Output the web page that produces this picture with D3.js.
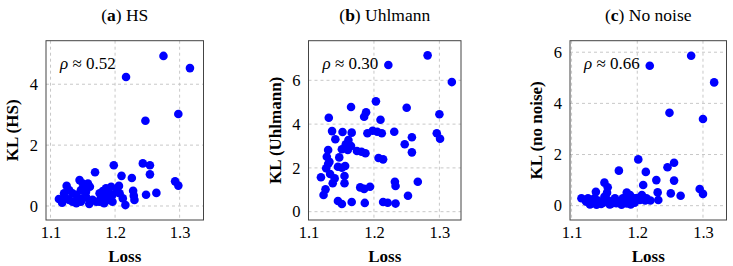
<!DOCTYPE html>
<html>
<head>
<meta charset="utf-8">
<script src="https://cdn.jsdelivr.net/npm/d3@7"></script>
<style>
  body { margin: 0; background: #fff; }
  svg text { font-family: "Liberation Serif", "DejaVu Serif", serif; fill: #000; }
</style>
</head>
<body>
<div id="chart"></div>
<script>
const width = 733,
    height = 266

// (a) HS
const lossHS = [1.217, 1.275, 1.316, 1.247, 1.298,
    1.198, 1.243, 1.254, 1.169, 1.21, 1.226, 1.254, 1.293, 1.298, 1.248, 1.264, 1.228, 1.229, 1.23, 1.216, 1.212, 1.206, 1.203, 1.207,
    1.194, 1.186, 1.181, 1.176, 1.183, 1.190, 1.196, 1.189, 1.176, 1.183, 1.196,
    1.145, 1.15, 1.158, 1.161, 1.155, 1.147, 1.155,
    1.125, 1.129, 1.121, 1.134, 1.140,
    1.113, 1.118, 1.124, 1.129, 1.134, 1.142, 1.147, 1.140, 1.15, 1.155, 1.160, 1.165, 1.171, 1.178]
const klHS = [4.24, 4.93, 4.53, 2.80, 3.02,
    1.34, 1.40, 1.34, 1.11, 0.99, 0.92, 1.04, 0.81, 0.67, 0.37, 0.43, 0.50, 0.34, 0.20, 0.03, 0.25, 0.66, 0.47, 0.42,
    0.63, 0.58, 0.49, 0.42, 0.36, 0.47, 0.36, 0.20, 0.14, 0.09, 0.14,
    0.85, 0.74, 0.74, 0.63, 0.58, 0.52, 0.47,
    0.66, 0.52, 0.42, 0.42, 0.36,
    0.23, 0.11, 0.25, 0.20, 0.14, 0.20, 0.14, 0.09, 0.25, 0.30, 0.07, 0.20, 0.14, 0.25]

// (b) Uhlmann
const lossU = [1.222, 1.282, 1.319, 1.203, 1.165, 1.250, 1.188, 1.185, 1.131, 1.300, 1.21,
    1.136, 1.152, 1.166, 1.190, 1.198, 1.205, 1.212, 1.231, 1.141, 1.258, 1.247, 1.258, 1.296, 1.301,
    1.161, 1.157, 1.165, 1.160, 1.151, 1.147, 1.174, 1.181, 1.187,
    1.130, 1.128, 1.132, 1.127, 1.130, 1.133, 1.145, 1.156, 1.151, 1.155, 1.155, 1.140, 1.137, 1.119, 1.126, 1.123,
    1.179, 1.194, 1.185, 1.207, 1.214, 1.232, 1.233, 1.267, 1.252, 1.145, 1.151, 1.166, 1.186, 1.214, 1.221, 1.233]
const klU = [6.70, 7.14, 5.92, 5.04, 4.78, 4.75, 4.54, 4.34, 4.29, 4.45, 4.20,
    3.68, 3.64, 3.61, 3.58, 3.70, 3.65, 3.58, 3.65, 3.31, 3.40, 3.08, 2.71, 3.58, 3.33,
    3.27, 3.08, 3.00, 2.82, 2.85, 2.48, 2.77, 2.74, 2.67,
    2.82, 2.51, 2.28, 1.98, 2.18, 1.72, 2.05, 2.09, 2.01, 1.63, 1.30, 1.52, 1.30, 1.57, 1.02, 0.76,
    1.11, 1.14, 1.04, 2.45, 2.39, 1.37, 1.17, 1.37, 0.73, 0.49, 0.35, 0.44, 0.40, 0.44, 0.41, 0.37]

// (c) No noise
const lossNN = [1.219, 1.282, 1.317, 1.249, 1.300,
    1.2015, 1.246, 1.256, 1.172, 1.213, 1.229, 1.256, 1.209, 1.295, 1.300, 1.251, 1.266, 1.231, 1.232,
    1.150, 1.155, 1.154, 1.137, 1.184, 1.189, 1.207, 1.214, 1.22,
    1.115, 1.122, 1.130, 1.140, 1.145, 1.155, 1.160, 1.171, 1.178, 1.184, 1.191, 1.196, 1.204, 1.212,
    1.125, 1.135, 1.150, 1.166, 1.186, 1.196,
    1.128, 1.138, 1.148, 1.158, 1.168, 1.176, 1.190, 1.200]
const klNN = [5.47, 5.86, 4.82, 3.63, 3.39,
    1.81, 1.50, 1.68, 1.37, 1.32, 1.00, 0.98, 0.81, 0.65, 0.46, 0.48, 0.39, 0.52, 0.22,
    0.90, 0.72, 0.51, 0.54, 0.51, 0.42, 0.42, 0.29, 0.20,
    0.29, 0.16, 0.09, 0.20, 0.07, 0.22, 0.07, 0.16, 0.29, 0.09, 0.22, 0.12, 0.22, 0.20,
    0.29, 0.29, 0.35, 0.29, 0.35, 0.29,
    0.05, 0.04, 0.12, 0.05, 0.10, 0.04, 0.05, 0.30]

const xTicks = [1.1, 1.2, 1.3]
const panels = [
    {tag: 'a', name: 'HS', ylabel: 'KL (HS)', rho: '0.52', loss: lossHS, kl: klHS,
        left: 46, right: 203.5, xDomain: [1.093, 1.337], yDomain: [-0.46, 5.43], yTicks: [0, 2, 4]},
    {tag: 'b', name: 'Uhlmann', ylabel: 'KL (Uhlmann)', rho: '0.30', loss: lossU, kl: klU,
        left: 308.5, right: 461, xDomain: [1.1, 1.333], yDomain: [-0.38, 7.81], yTicks: [0, 2, 4, 6]},
    {tag: 'c', name: 'No noise', ylabel: 'KL (no noise)', rho: '0.66', loss: lossNN, kl: klNN,
        left: 570, right: 726.5, xDomain: [1.0976, 1.3358], yDomain: [-0.56, 6.45], yTicks: [0, 2, 4, 6]}
]
const plotTop = 40.7,
    plotBottom = 220

const svg = d3.select('#chart')
    .append('svg')
    .attr('width', width)
    .attr('height', height)

panels.forEach(function (p) {
    const x = d3.scaleLinear().domain(p.xDomain).range([p.left, p.right])
    const y = d3.scaleLinear().domain(p.yDomain).range([plotBottom, plotTop])
    const g = svg.append('g')

    // grid
    g.append('g')
        .selectAll('line')
        .data(xTicks)
        .enter().append('line')
        .attr('x1', d => x(d)).attr('x2', d => x(d))
        .attr('y1', plotTop).attr('y2', plotBottom)
        .attr('stroke', '#c8c8c8')
        .attr('stroke-dasharray', '3,3')
    g.append('g')
        .selectAll('line')
        .data(p.yTicks)
        .enter().append('line')
        .attr('x1', p.left).attr('x2', p.right)
        .attr('y1', d => y(d)).attr('y2', d => y(d))
        .attr('stroke', '#c8c8c8')
        .attr('stroke-dasharray', '3,3')

    // axes (labels only, frame drawn below)
    const xAxis = g.append('g')
        .attr('transform', 'translate(0,' + plotBottom + ')')
        .call(d3.axisBottom(x).tickValues(xTicks).tickSize(0).tickPadding(6).tickFormat(d3.format('.1f')))
    const yAxis = g.append('g')
        .attr('transform', 'translate(' + p.left + ',0)')
        .call(d3.axisLeft(y).tickValues(p.yTicks).tickSize(0).tickPadding(8).tickFormat(d3.format('d')))
    xAxis.select('.domain').remove()
    yAxis.select('.domain').remove()
    xAxis.selectAll('text').attr('font-size', 16.5).attr('font-family', null)
    yAxis.selectAll('text').attr('font-size', 16.5).attr('font-family', null)

    // points
    g.append('g')
        .selectAll('circle')
        .data(p.loss.map((d, i) => [d, p.kl[i]]))
        .enter().append('circle')
        .attr('cx', d => x(d[0]))
        .attr('cy', d => y(d[1]))
        .attr('r', 4.3)
        .attr('fill', '#0000ff')

    // frame
    g.append('rect')
        .attr('x', p.left).attr('y', plotTop)
        .attr('width', p.right - p.left).attr('height', plotBottom - plotTop)
        .attr('fill', 'none')
        .attr('stroke', '#444')
        .attr('stroke-width', 1)

    // title
    const cx = (p.left + p.right) / 2
    const t = g.append('text')
        .attr('x', cx).attr('y', 21)
        .attr('text-anchor', 'middle')
        .attr('font-size', 17.5)
    t.append('tspan').text('(')
    t.append('tspan').attr('font-weight', 'bold').text(p.tag)
    t.append('tspan').text(') ' + p.name)

    // rho annotation
    const r = g.append('text')
        .attr('x', p.left + 14).attr('y', plotTop + 28)
        .attr('font-size', 17)
    r.append('tspan').attr('font-style', 'italic').text('ρ')
    r.append('tspan').text(' ≈ ' + p.rho)

    // axis labels
    g.append('text')
        .attr('x', cx).attr('y', 262)
        .attr('text-anchor', 'middle')
        .attr('font-size', 17)
        .attr('font-weight', 'bold')
        .text('Loss')
    g.append('text')
        .attr('transform', 'translate(' + (p.left - 28) + ',' + ((plotTop + plotBottom) / 2) + ') rotate(-90)')
        .attr('text-anchor', 'middle')
        .attr('font-size', 17)
        .attr('font-weight', 'bold')
        .text(p.ylabel)
})
</script>
</body>
</html>
